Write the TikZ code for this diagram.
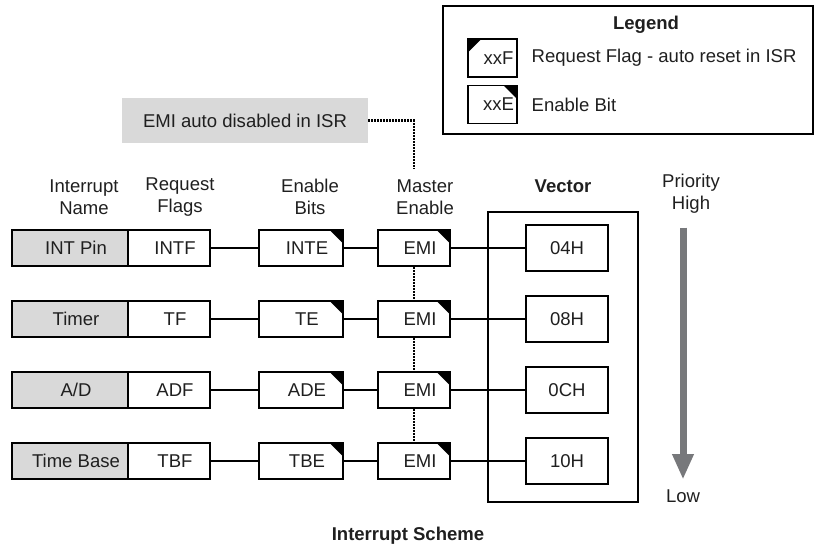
\documentclass[tikz,border=0pt]{standalone}
\usepackage{fontspec}
\setmainfont{Liberation Sans}
\usetikzlibrary{arrows.meta}
\definecolor{prio}{RGB}{119,120,123}
\definecolor{note}{RGB}{217,217,217}
\begin{document}
\begin{tikzpicture}[x=0.75pt,y=-0.75pt,
  font=\fontsize{13.9}{16.5}\selectfont, text=black!88,
  box/.style={draw,line width=1.2pt,minimum height=27pt,inner sep=0pt,minimum width=#1},
  offtext/.style={execute at begin node={\kern9pt}},
  flagcorner/.style={offtext,path picture={\fill (path picture bounding box.north west) -- ++(10pt,0pt) -- ++(-10pt,-10pt) -- cycle;}},
  bitcorner/.style={offtext,path picture={\fill (path picture bounding box.north east) -- ++(-10pt,0pt) -- ++(10pt,-10pt) -- cycle;}},
  wire/.style={line width=1.2pt},
  dotline/.style={line width=1.7pt,dash pattern=on 1.4pt off 0.85pt},
  head/.style={align=center}]
  \useasboundingbox (0,0) rectangle (817,550);
  % legend
  \node[box=277.5pt,minimum height=96pt] (legend) at (628,70) {};
  \node[font=\fontsize{13.9}{16.5}\selectfont\bfseries] (legtitle) at (646,25) {Legend};
  \node[box=36.75pt,minimum height=28.5pt,flagcorner] (legf) at (492.5,58) {xxF};
  \node[anchor=west] (legftext) at (527,58) {Request Flag - auto reset in ISR};
  \node[box=36.75pt,minimum height=28.5pt,bitcorner] (lege) at (492.5,104.5) {xxE};
  \node[anchor=west] (legetext) at (527,104.5) {Enable Bit};
  % note on EMI
  \node[fill=note,minimum width=184.5pt,minimum height=33.75pt,inner sep=0pt] (note) at (245,120.5) {EMI auto disabled in ISR};
  \coordinate (mtop) at (414,168);
  \draw[dotline] (note.east) -| (mtop);
  % column heads
  \node[head] (hname) at (84,197) {Interrupt\\Name};
  \node[head] (hflag) at (180,197) {Request\\Flags};
  \node[head] (hen) at (310,197) {Enable\\Bits};
  \node[head] (hemi) at (425,197) {Master\\Enable};
  \node[font=\fontsize{13.9}{16.5}\selectfont\bfseries] (hvec) at (563,186) {Vector};
  \node[box=112.5pt,minimum height=217.5pt] (vecbox) at (563,357) {};
  % rows
  \foreach \i/\nm/\fl/\en/\vc/\y in {1/INT Pin/INTF/INTE/04H/248,2/Timer/TF/TE/08H/319,3/{A/D}/ADF/ADE/0CH/390,4/Time Base/TBF/TBE/10H/461}{
    \node[box=87pt,fill=note,offtext] (n\i) at (70,\y) {\nm};
    \node[box=61.5pt,fill=white,flagcorner] (f\i) at (169,\y) {\fl};
    \node[box=63pt,bitcorner] (b\i) at (301,\y) {\en};
    \node[box=54pt,bitcorner] (m\i) at (414,\y) {EMI};
    \node[box=61.5pt,minimum height=34.5pt,fill=white] (v\i) at (567,\y) {\vc};
    \draw[wire] (f\i) -- (b\i);
    \draw[wire] (b\i) -- (m\i);
    \draw[wire] (m\i) -- (v\i);
  }
  \draw[dotline] (m1) -- (m2);
  \draw[dotline] (m2) -- (m3);
  \draw[dotline] (m3) -- (m4);
  % priority
  \node[head] (high) at (691,194) {Priority\\High};
  \node (low) at (683,496) {Low};
  \draw[prio,line width=5.25pt,-{Triangle[width=15pt,length=19pt]},shorten <=7pt,shorten >=4pt] (low |- high.south) -- (low.north);
  \node[font=\fontsize{13.9}{16.5}\selectfont\bfseries] (title) at (408,536) {Interrupt Scheme};
\end{tikzpicture}
\end{document}
